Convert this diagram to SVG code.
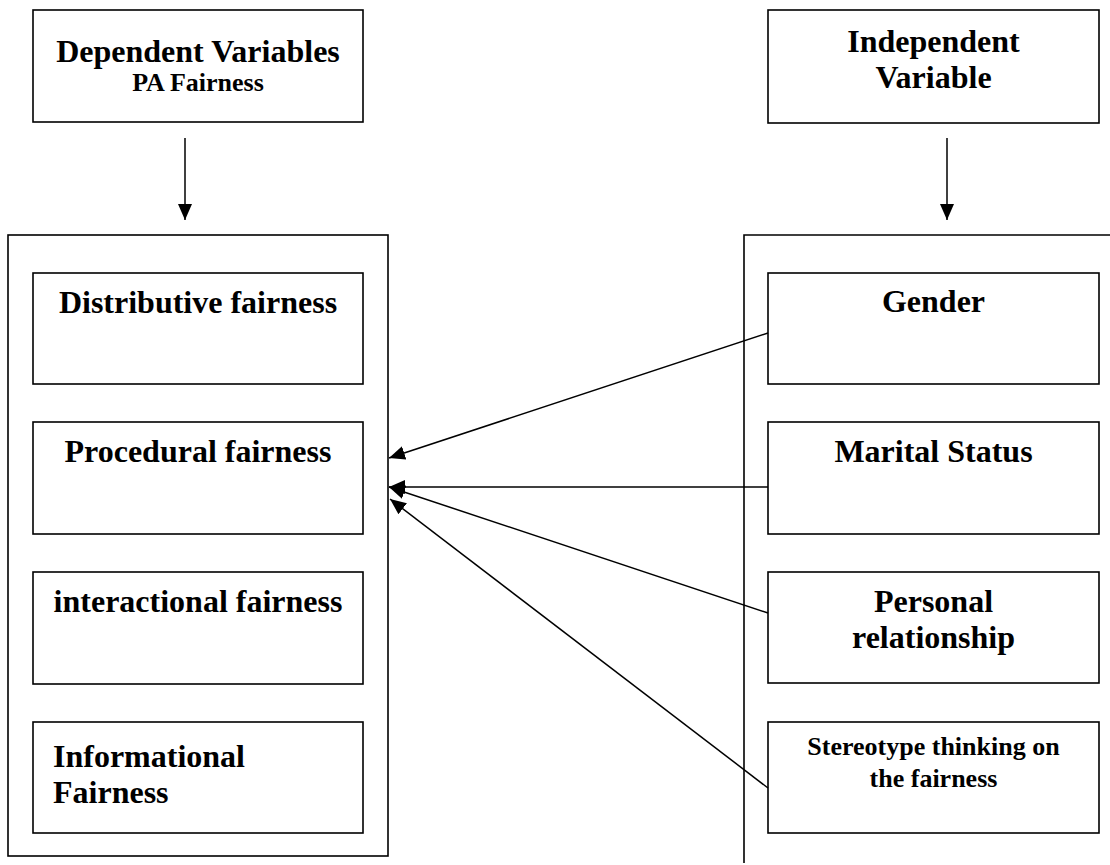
<svg xmlns="http://www.w3.org/2000/svg" width="1110" height="865" viewBox="0 0 1110 865">
<style>
.box{fill:none;stroke:#000;stroke-width:1.6}
.t{font-family:"Liberation Serif","Times New Roman",serif;font-weight:bold;font-size:32px;fill:#000;text-anchor:middle}
.s{font-size:26px}
.st{font-size:26px}
.l{text-anchor:start}
.c{stroke:#000;stroke-width:1.5;fill:none;marker-end:url(#ah)}
</style>
<defs>
<marker id="ah" markerUnits="userSpaceOnUse" markerWidth="18" markerHeight="16" refX="16" refY="7" orient="auto">
<path d="M0,0 L16,7 L0,14 Z" fill="#000"/>
</marker>
</defs>
<rect width="1110" height="865" fill="#fff"/>
<g id="dependent-variables">
<rect class="box" x="33" y="10" width="330" height="112"/>
<text class="t" x="198" y="62">Dependent Variables</text>
<text class="t s" x="198" y="91">PA Fairness</text>
</g>
<g id="independent-variable">
<rect class="box" x="768" y="10" width="331" height="113"/>
<text class="t" x="933.5" y="52">Independent</text>
<text class="t" x="933.5" y="88">Variable</text>
</g>
<g id="dependent-group">
<rect class="box" x="8" y="235" width="380" height="621"/>
</g>
<g id="independent-group">
<path class="box" d="M744,863 V235 H1112"/>
</g>
<g id="distributive">
<rect class="box" x="33" y="273" width="330" height="111"/>
<text class="t" x="198" y="313">Distributive fairness</text>
</g>
<g id="procedural">
<rect class="box" x="33" y="422" width="330" height="112"/>
<text class="t" x="198" y="462">Procedural fairness</text>
</g>
<g id="interactional">
<rect class="box" x="33" y="572" width="330" height="112"/>
<text class="t" x="198" y="612">interactional fairness</text>
</g>
<g id="informational">
<rect class="box" x="33" y="722" width="330" height="111"/>
<text class="t l" x="53" y="767">Informational</text>
<text class="t l" x="53" y="803">Fairness</text>
</g>
<g id="gender">
<rect class="box" x="768" y="273" width="331" height="111"/>
<text class="t" x="933.5" y="312">Gender</text>
</g>
<g id="marital-status">
<rect class="box" x="768" y="422" width="331" height="112"/>
<text class="t" x="933.5" y="462">Marital Status</text>
</g>
<g id="personal-relationship">
<rect class="box" x="768" y="572" width="331" height="111"/>
<text class="t" x="933.5" y="612">Personal</text>
<text class="t" x="933.5" y="648">relationship</text>
</g>
<g id="stereotype">
<rect class="box" x="768" y="722" width="331" height="111"/>
<text class="t st" x="933.5" y="755">Stereotype thinking on</text>
<text class="t st" x="933.5" y="787">the fairness</text>
</g>
<g id="connectors">
<line class="c" x1="185" y1="138" x2="185" y2="220"/>
<line class="c" x1="947" y1="138" x2="947" y2="220"/>
<line class="c" x1="768" y1="333" x2="389" y2="458"/>
<line class="c" x1="768" y1="487" x2="389" y2="487"/>
<line class="c" x1="768" y1="613" x2="389" y2="487"/>
<line class="c" x1="768" y1="788" x2="390" y2="499"/>
</g>
</svg>
